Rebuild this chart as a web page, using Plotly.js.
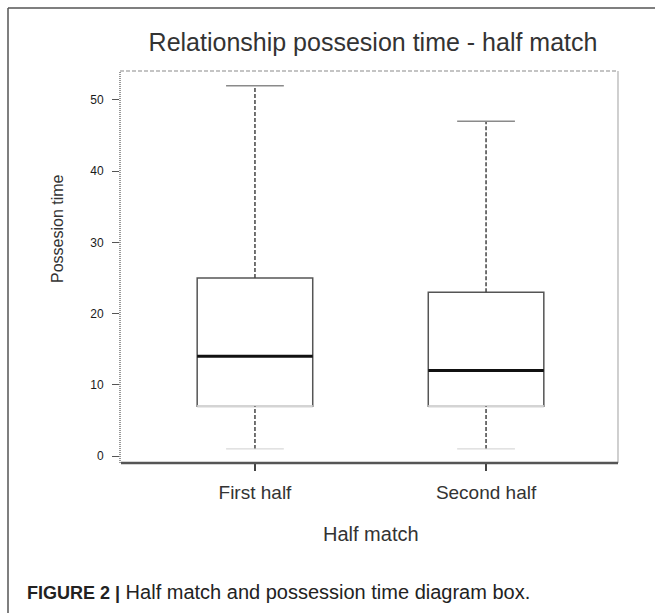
<!DOCTYPE html>
<html>
<head>
<meta charset="utf-8">
<script src="https://cdn.plot.ly/plotly-3.0.1.min.js"></script>
<style>
  html, body { margin: 0; padding: 0; background: #ffffff; }
  #chart { width: 659px; height: 616px; }
</style>
</head>
<body>
<div id="chart"></div>
<script>
// Possession time per half: five-number summaries for each box
const categories = ['First half', 'Second half'];
const lowerWhisker = [1, 1];
const q1 = [7, 7];
const median = [14, 12];
const q3 = [25, 23];
const upperWhisker = [52, 47];
const yTicks = [0, 10, 20, 30, 40, 50];

// Figure geometry (pixels)
const W = 659, H = 616;
const plotL = 120, plotR = 618, plotT = 71, plotB = 463;
const px = x => (x - plotL) / (plotR - plotL);
const py = y => (plotB - y) / (plotB - plotT);

const BOX_HALF = 0.25;
const CAP_HALF = 0.125;
const pos = categories.map((_, i) => i);

// Box body (whiskers are drawn separately, dashed)
const boxTrace = {
  type: 'box',
  x: pos,
  q1: q1,
  median: median,
  q3: q3,
  lowerfence: q1,
  upperfence: q3,
  width: BOX_HALF * 2,
  whiskerwidth: 0,
  boxpoints: false,
  fillcolor: 'rgba(255,255,255,0)',
  line: { color: '#555555', width: 1.5 },
  hoverinfo: 'skip',
  showlegend: false
};

function segments(fn) {
  const xs = [], ys = [];
  pos.forEach((p, i) => {
    const s = fn(p, i);
    xs.push(s[0][0], s[1][0], null);
    ys.push(s[0][1], s[1][1], null);
  });
  return { x: xs, y: ys };
}

const upperW = segments((p, i) => [[p, q3[i]], [p, upperWhisker[i]]]);
const lowerW = segments((p, i) => [[p, lowerWhisker[i]], [p, q1[i]]]);
const upperCap = segments((p, i) => [[p - CAP_HALF, upperWhisker[i]], [p + CAP_HALF, upperWhisker[i]]]);
const lowerCap = segments((p, i) => [[p - CAP_HALF, lowerWhisker[i]], [p + CAP_HALF, lowerWhisker[i]]]);
const q1Edge = segments((p, i) => [[p - BOX_HALF, q1[i]], [p + BOX_HALF, q1[i]]]);
const medLine = segments((p, i) => [[p - BOX_HALF, median[i]], [p + BOX_HALF, median[i]]]);

const line = (seg, color, width, dash) => ({
  type: 'scatter', mode: 'lines', x: seg.x, y: seg.y,
  line: { color: color, width: width, dash: dash || 'solid' },
  hoverinfo: 'skip', showlegend: false, connectgaps: false
});

const traces = [
  boxTrace,
  line(q1Edge, '#d4d4d4', 2.5),
  line(upperW, '#444444', 1.5, '4px,2px'),
  line(lowerW, '#444444', 1.5, '4px,2px'),
  line(upperCap, '#8a8a8a', 1.5),
  line(lowerCap, '#cfcfcf', 1),
  line(medLine, '#111111', 3)
];

const baseFont = 'Liberation Sans, Arial, sans-serif';

const layout = {
  width: W,
  height: H,
  margin: { l: plotL, r: W - plotR, t: plotT, b: H - plotB, pad: 0 },
  paper_bgcolor: '#ffffff',
  plot_bgcolor: '#ffffff',
  showlegend: false,
  font: { family: baseFont, color: '#333333' },
  title: {
    text: 'Relationship possesion time - half match',
    font: { family: baseFont, size: 25, color: '#333333' },
    xref: 'paper', x: px(373), xanchor: 'center',
    yref: 'container', y: 1 - 42 / H, yanchor: 'middle'
  },
  xaxis: {
    type: 'linear',
    range: [-0.584, 1.571],
    tickvals: pos,
    ticktext: categories,
    ticks: 'outside', ticklen: 7, tickwidth: 1.5, tickcolor: '#444444',
    tickfont: { family: baseFont, size: 19, color: '#333333' },
    ticklabelstandoff: 5,
    showgrid: false, zeroline: false, showline: false,
    fixedrange: true
  },
  yaxis: {
    range: [-0.98, 54.07],
    tickvals: yTicks,
    ticktext: yTicks.map(String),
    ticks: 'outside', ticklen: 7, tickwidth: 1, tickcolor: '#555555',
    tickfont: { family: baseFont, size: 12, color: '#1a1a1a' },
    ticklabelstandoff: 6,
    showgrid: false, zeroline: false, showline: false,
    fixedrange: true
  },
  shapes: [
    // plot frame: dotted left, dashed top, light right, heavy bottom
    { type: 'line', xref: 'paper', yref: 'paper', x0: 0, x1: 0, y0: 0, y1: 1,
      line: { color: '#777777', width: 1.5, dash: '1px,1px' } },
    { type: 'line', xref: 'paper', yref: 'paper', x0: 0, x1: 1, y0: 1, y1: 1,
      line: { color: '#8a8a8a', width: 1.2, dash: '4px,2px' } },
    { type: 'line', xref: 'paper', yref: 'paper', x0: 1, x1: 1, y0: 0, y1: 1,
      line: { color: '#b0b0b0', width: 1.2 } },
    { type: 'line', xref: 'paper', yref: 'paper', x0: px(121), x1: 1, y0: 0, y1: 0,
      line: { color: '#555555', width: 2.5 } },
    // outer figure border (top and left)
    { type: 'line', xref: 'paper', yref: 'paper', x0: px(8), x1: px(655), y0: py(8), y1: py(8),
      line: { color: '#555555', width: 1.5 } },
    { type: 'line', xref: 'paper', yref: 'paper', x0: px(8), x1: px(8), y0: py(8), y1: py(613),
      line: { color: '#555555', width: 1.5 } }
  ],
  annotations: [
    { text: 'Possesion time', xref: 'paper', yref: 'paper',
      x: px(58), y: py(229), xanchor: 'center', yanchor: 'middle', textangle: -90,
      showarrow: false, font: { family: baseFont, size: 16, color: '#333333' } },
    { text: 'Half match', xref: 'paper', yref: 'paper',
      x: px(371), y: py(534), xanchor: 'center', yanchor: 'middle',
      showarrow: false, font: { family: baseFont, size: 20, color: '#333333' } },
    { text: '<b><span style="font-size:18px">FIGURE 2 |</span></b> Half match and possession time diagram box.',
      xref: 'paper', yref: 'paper', x: px(25), y: py(592), xanchor: 'left', yanchor: 'middle',
      align: 'left', showarrow: false, font: { family: baseFont, size: 20, color: '#222222' } }
  ]
};

Plotly.newPlot('chart', traces, layout, { displayModeBar: false, staticPlot: true });
</script>
</body>
</html>
